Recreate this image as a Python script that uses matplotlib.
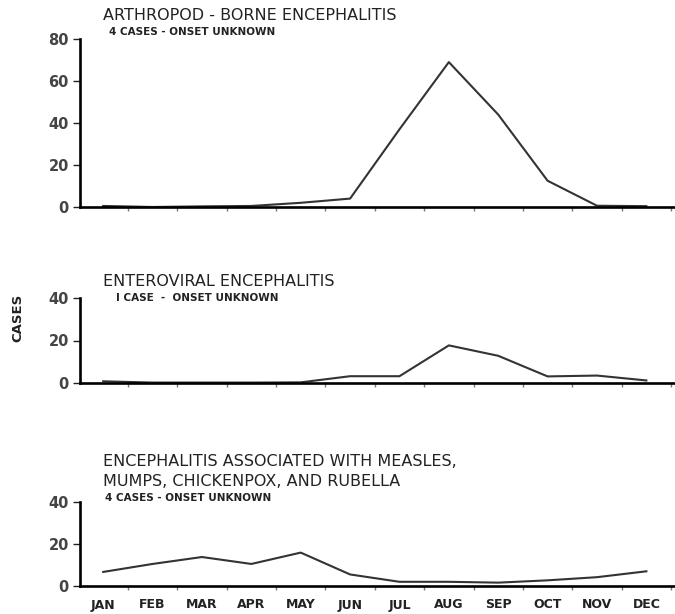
import numpy as np
import matplotlib
matplotlib.use('Agg')
from matplotlib import pyplot as plt

months = ['JAN', 'FEB', 'MAR', 'APR', 'MAY', 'JUN',
          'JUL', 'AUG', 'SEP', 'OCT', 'NOV', 'DEC']

# cases per month
arthropod = [0.5, 0, 0.3, 0.5, 2, 4, 37, 69, 44, 12.5, 0.6, 0.4]
enteroviral = [0.8, 0.2, 0.2, 0.2, 0.3, 3.2, 3.2, 17.7, 12.8, 3.1, 3.5, 1.2]
measles = [6.7, 10.5, 13.8, 10.5, 15.9, 5.5, 2, 2, 1.6, 2.7, 4.2, 7]

panels = [
    (arthropod, 80, [0, 20, 40, 60, 80], ['ARTHROPOD - BORNE ENCEPHALITIS'],
     '4 CASES - ONSET UNKNOWN'),
    (enteroviral, 40, [0, 20, 40], ['ENTEROVIRAL ENCEPHALITIS'],
     'I CASE  -  ONSET UNKNOWN'),
    (measles, 40, [0, 20, 40], ['ENCEPHALITIS ASSOCIATED WITH MEASLES,',
                                'MUMPS, CHICKENPOX, AND RUBELLA'],
     '4 CASES - ONSET UNKNOWN'),
]

W, H = 675, 614
# (pixel y of zero line, pixel y of top tick) for each panel
rows = [(207, 39), (383, 298), (586, 502)]
title_y = [[15], [281], [461, 481]]
sub_y = [32, 298, 498]
sub_x = [109, 116, 105]

fig = plt.figure(figsize=(W / 100, H / 100), dpi=100)
ink = '#222222'

x = np.arange(12)
for i, (vals, ymax, yt, titles, sub) in enumerate(panels):
    y0, y1 = rows[i]
    ax = fig.add_axes([80 / W, (H - y0) / H, (W - 80) / W, (y0 - y1) / H])
    ax.plot(x, vals, color='#333333', lw=1.5)
    ax.set_xlim(-0.47, 11.58)
    ax.set_ylim(0, ymax)
    for s in ('top', 'right'):
        ax.spines[s].set_visible(False)
    for s in ('left', 'bottom'):
        ax.spines[s].set_linewidth(1.9)
        ax.spines[s].set_color('black')
        ax.spines[s].set_capstyle('projecting')
    ax.set_yticks(yt)
    ax.set_yticklabels([str(v) for v in yt], fontsize=10.5, fontweight='bold', color='#444444')
    ax.tick_params(axis='y', direction='out', length=5, width=1, color=ink, pad=3)
    ax.set_xticks(x + 0.5)
    ax.set_xticks(x, minor=True)
    ax.tick_params(axis='x', which='major', direction='out', length=3, width=1,
                   color='#777777', labelbottom=False)
    ax.tick_params(axis='x', which='minor', length=0, labelbottom=(i == 2), pad=9)
    if i == 2:
        ax.set_xticklabels(months, minor=True, fontsize=9, fontweight='bold', color=ink)
    ax.patch.set_alpha(0)

    for t, ty in zip(titles, title_y[i]):
        fig.text(103 / W, 1 - ty / H, t, fontsize=11.5, color=ink, va='center', ha='left')
    fig.text(sub_x[i] / W, 1 - sub_y[i] / H, sub, fontsize=7.5, fontweight='bold',
             color=ink, va='center', ha='left')

fig.text(18 / W, 1 - 318 / H, 'CASES', rotation=90, fontsize=9.5, fontweight='bold',
         color=ink, va='center', ha='center')

fig.savefig('out.png', dpi=100, facecolor='white')
